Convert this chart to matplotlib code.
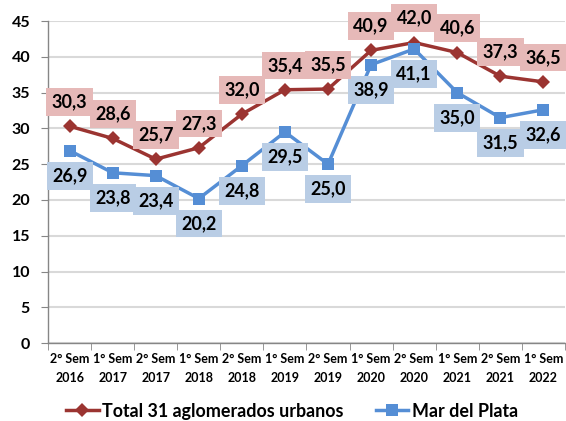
import matplotlib
matplotlib.use("Agg")
import matplotlib.pyplot as plt
from matplotlib.lines import Line2D

plt.rcParams['font.family'] = ['Lato', 'DejaVu Sans']

categories = ["2° Sem\n2016", "1° Sem\n2017", "2° Sem\n2017", "1° Sem\n2018",
              "2° Sem\n2018", "1° Sem\n2019", "2° Sem\n2019", "1° Sem\n2020",
              "2° Sem\n2020", "1° Sem\n2021", "2° Sem\n2021", "1° Sem\n2022"]
total = [30.3, 28.6, 25.7, 27.3, 32.0, 35.4, 35.5, 40.9, 42.0, 40.6, 37.3, 36.5]
mdp = [26.9, 23.8, 23.4, 20.2, 24.8, 29.5, 25.0, 38.9, 41.1, 35.0, 31.5, 32.6]
series_names = ["Total 31 aglomerados urbanos", "Mar del Plata"]

red = "#9B3431"
blue = "#558ED5"
pink_box = "#E6B9B8"
blue_box = "#B9CDE5"

fig = plt.figure(figsize=(5.66, 4.21), dpi=100)
ax = fig.add_axes([0.085, 0.185, 0.913, 0.765])

x = list(range(len(categories)))
ax.plot(x, total, color=red, lw=2.5, marker='D', ms=7, markeredgewidth=0, zorder=3)
ax.plot(x, mdp, color=blue, lw=2.5, marker='s', ms=9, markeredgewidth=0, zorder=3)

def fmt(v):
    return f"{v:.1f}".replace('.', ',')

for xi, v in zip(x, total):
    ax.annotate(fmt(v), (xi, v), xytext=(0, 17.5), textcoords='offset points',
                ha='center', va='center', fontsize=13, fontweight='bold', color='black',
                bbox=dict(boxstyle='square,pad=0.3', fc=pink_box, ec='none'), zorder=5,
                annotation_clip=False)
for xi, v in zip(x, mdp):
    ax.annotate(fmt(v), (xi, v), xytext=(0, -18), textcoords='offset points',
                ha='center', va='center', fontsize=13, fontweight='bold', color='black',
                bbox=dict(boxstyle='square,pad=0.3', fc=blue_box, ec='none'), zorder=4,
                annotation_clip=False)

ax.set_xlim(-0.5, len(categories) - 0.5)
ax.set_ylim(0, 45)
ax.set_yticks(range(0, 46, 5))
ax.set_xticks(x)
ax.set_xticklabels(categories, fontsize=9, fontweight='bold', linespacing=1.7)
ax.set_xticks([i - 0.5 for i in range(len(categories) + 1)], minor=True)
ax.tick_params(axis='x', which='major', length=0, pad=7)
ax.tick_params(axis='x', which='minor', length=5, color='#868686', direction='out')
ax.tick_params(axis='y', length=5, color='#868686', direction='out', labelsize=11.5, pad=8)
for lab in ax.get_yticklabels():
    lab.set_fontweight('bold')

ax.grid(axis='y', color='#D9D9D9', lw=1.5)
ax.set_axisbelow(True)
for s in ['top', 'right']:
    ax.spines[s].set_visible(False)
for s in ['left', 'bottom']:
    ax.spines[s].set_color('#868686')
    ax.spines[s].set_linewidth(1.0)

handles = [Line2D([0], [0], color=red, lw=2.5, marker='D', ms=7, markeredgewidth=0),
           Line2D([0], [0], color=blue, lw=2.5, marker='s', ms=9, markeredgewidth=0)]
fig.legend(handles, series_names, loc='lower center', bbox_to_anchor=(0.516, -0.035),
           ncol=2, frameon=False, prop={'weight': 'bold', 'size': 12.9},
           handlelength=1.8, columnspacing=1.8, handletextpad=0.2)

fig.savefig("out.png", dpi=100)
